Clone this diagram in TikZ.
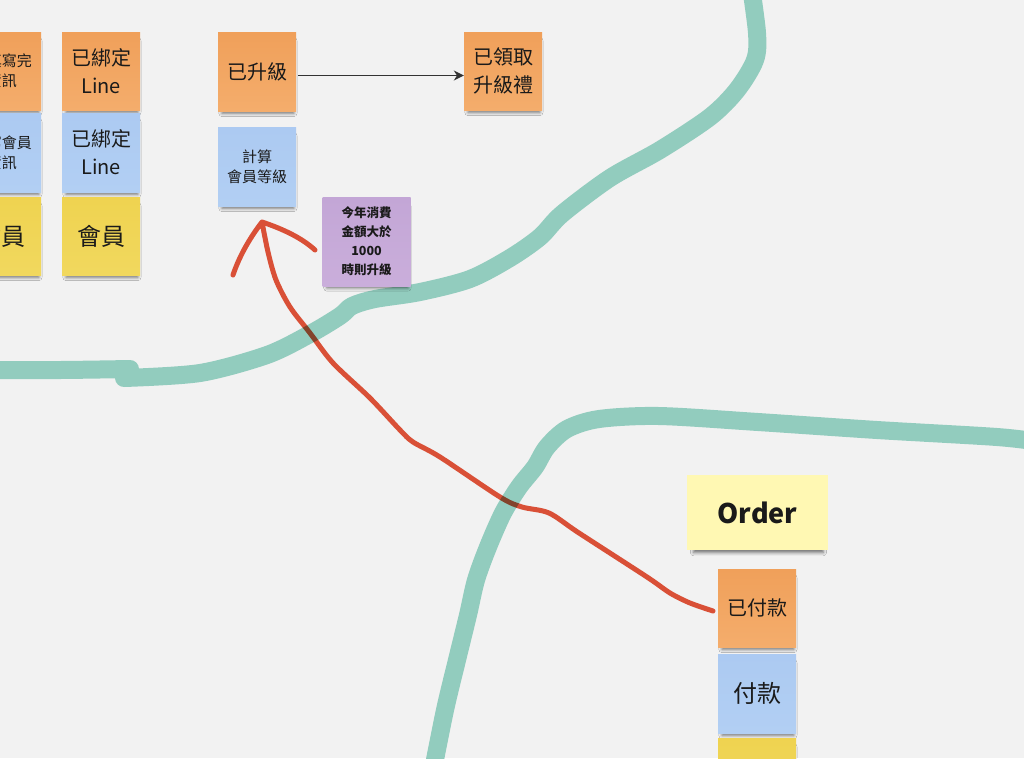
\documentclass[tikz,border=0pt]{standalone}
\usepackage{fontspec}
\newfontfamily\cjk{Noto Sans CJK TC}
\usetikzlibrary{arrows.meta,shadows.blur}
\definecolor{bgc}{HTML}{F2F2F2}
\definecolor{tealc}{HTML}{92CCBE}
\definecolor{redc}{HTML}{E5553A}
\definecolor{orangeT}{HTML}{F0A05A}
\definecolor{orangeB}{HTML}{F4AD6C}
\definecolor{blueT}{HTML}{ACCAF2}
\definecolor{blueB}{HTML}{B2CFF3}
\definecolor{yellowT}{HTML}{EFD350}
\definecolor{yellowB}{HTML}{F1D85E}
\definecolor{lyellow}{HTML}{FFF8B3}
\definecolor{purpleT}{HTML}{C3A6D6}
\definecolor{purpleB}{HTML}{CAAEDB}
\definecolor{textc}{HTML}{1A1A1A}
\definecolor{arrowc}{HTML}{333333}
\tikzset{
  note/.style={draw=none, minimum width=78pt, minimum height=78pt, inner sep=0pt,
    align=center, text=textc,
    blur shadow={shadow xshift=1pt, shadow yshift=-6pt, shadow blur radius=3.5pt,
      shadow opacity=55, shadow scale=0.92}},
  orangenote/.style={note, top color=orangeT, bottom color=orangeB},
  bluenote/.style={note, top color=blueT, bottom color=blueB},
  yellownote/.style={note, top color=yellowT, bottom color=yellowB},
  purplenote/.style={note, top color=purpleT, bottom color=purpleB, minimum width=88pt, minimum height=89pt},
  big/.style={font=\cjk\fontsize{20}{28}\selectfont},
  mid/.style={font=\cjk\fontsize{15}{20}\selectfont},
  huge/.style={font=\cjk\fontsize{24}{30}\selectfont},
  small/.style={font=\cjk\bfseries\fontsize{12.5}{19}\selectfont},
  tealline/.style={line width=18pt, color=tealc, line cap=round, line join=round},
  redline/.style={line width=5pt, color=redc, line cap=round, line join=round},
  flowarrow/.style={line width=1.4pt, color=arrowc, -{Stealth[length=10pt,width=10pt]}}
}
\begin{document}
\begin{tikzpicture}[x=1pt,y=-1pt]
\useasboundingbox (0,0) rectangle (1024,758);
\clip (0,0) rectangle (1024,758);
\fill[bgc] (0,0) rectangle (1024,758);

% teal boundary lines
\draw[tealline] plot[smooth, tension=0.5] coordinates {(-20,370) (60,370) (130,369)};
\draw[tealline] plot[smooth, tension=0.5] coordinates {(124,378) (200,373) (267,355) (310,334) (340,316) (352,306) (375,299) (420,292) (470,279) (510,258) (540,237) (562,214) (610,178) (660,150) (710,117) (737,90) (755,60) (757,33) (750,-20)};
\draw[tealline] plot[smooth, tension=0.5] coordinates {(1040,442) (997,437) (877,430) (758,422) (659,416) (599,419) (567,429) (547,447) (535,467) (519,487) (503,513) (488,547) (476,580) (468,615) (457,660) (445,710) (432,775)};

% left partial column
\node[orangenote, mid] (l1) at (2,71) {已填寫完\\資訊};
\node[bluenote, mid, minimum height=79pt] (l2) at (2,152.5) {填寫會員\\資訊};
\node[yellownote, huge] (l3) at (2,236) {會員};

% column 2
\node[orangenote, big] (c1) at (101,71) {已綁定\\Line};
\node[bluenote, big, minimum height=79pt] (c2) at (101,152.5) {已綁定\\Line};
\node[yellownote, huge] (c3) at (101,236) {會員};

% upgrade
\node[orangenote, big, minimum height=79pt] (up) at (257,71.5) {已升級};
\node[bluenote, mid, minimum height=79pt] (calc) at (257,166.5) {計算\\會員等級};
\node[orangenote, big] (gift) at (503,71) {已領取\\升級禮};
\node[purplenote, small] (rule) at (366.5,241.5) {今年消費\\金額大於\\1000\\時則升級};

\draw[flowarrow] (up.east) ++(2,4) coordinate (a1) (a1) -- (a1 -| gift.west);

% order
\node[note, fill=lyellow, minimum width=141pt, minimum height=75pt,
  font=\cjk\bfseries\fontsize{27}{32}\selectfont] (order) at (757.5,512.5) {Order};
\node[orangenote, big] (paid) at (757,608) {已付款};
\node[bluenote, huge, minimum height=79pt] (pay) at (757,693.5) {付款};
\node[yellownote] (agg) at (757,777) {};

% red hand-drawn arrow
\coordinate (rs) at (713,611);
\coordinate (rt) at (262,222);
\begin{scope}[blend mode=multiply]
\draw[redline] plot[smooth, tension=0.5] coordinates {(rs) (690,603) (670,593) (647,577) (579,533) (549,513) (522,507) (500,497) (440,457) (413,442) (400,430) (370,398) (333,363) (310,333) (290,307) (276,280) (268,252) (rt)}
  (233,275) .. controls (239,257) and (249,239) .. (rt)
  .. controls (283,229) and (302,238) .. (315,250);
\end{scope}
\end{tikzpicture}
\end{document}
